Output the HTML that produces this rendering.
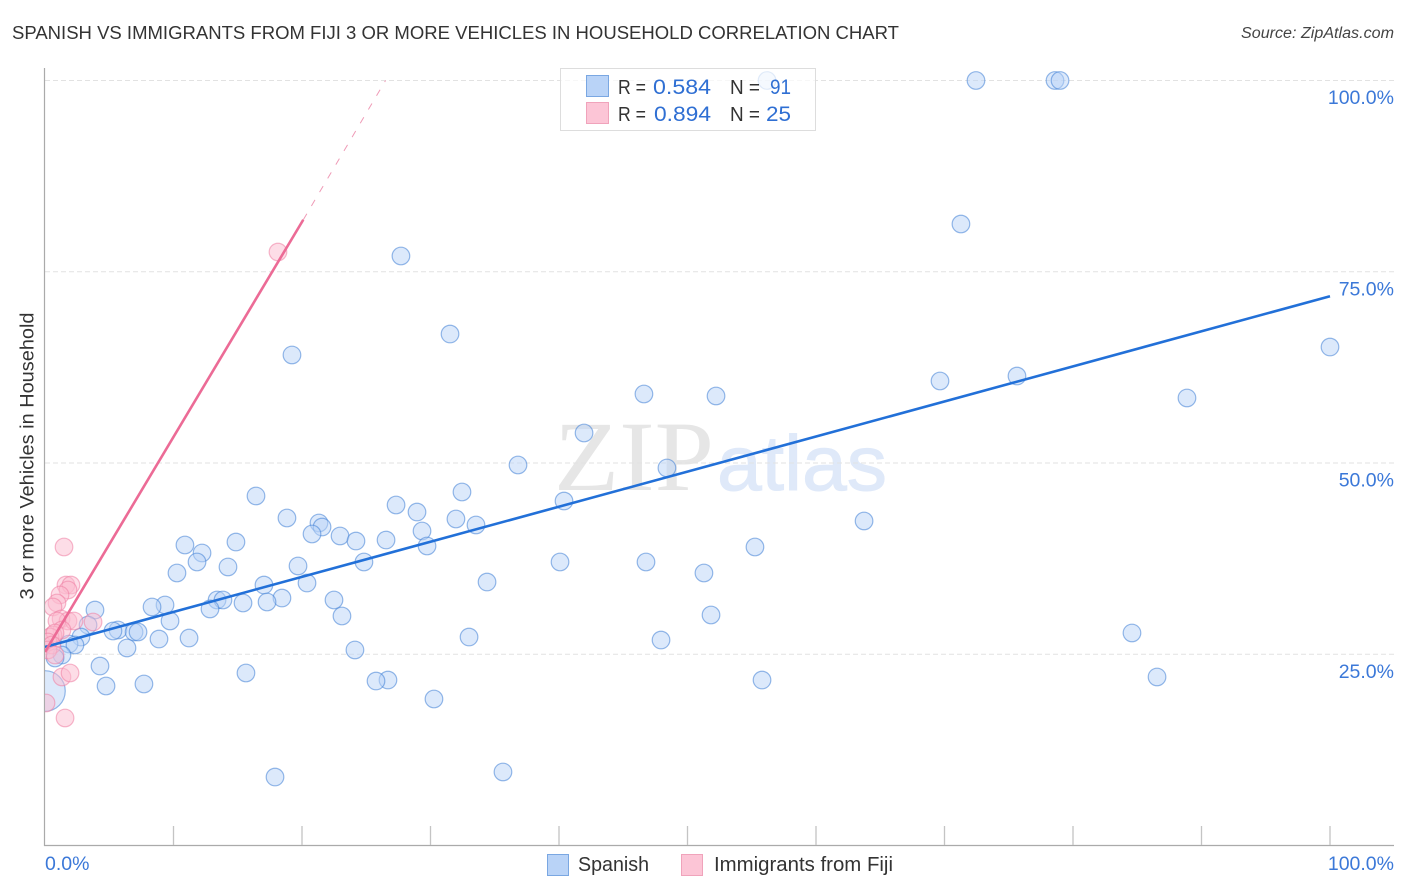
<!DOCTYPE html>
<html lang="en">
<head>
<meta charset="utf-8">
<title>Spanish vs Immigrants from Fiji 3 or More Vehicles in Household Correlation Chart</title>
<style>
html,body{margin:0;padding:0;background:#fff;}
body{width:1406px;height:892px;overflow:hidden;}
svg{display:block;font-family:"Liberation Sans",sans-serif;}
</style>
</head>
<body>
<svg id="chart" xmlns="http://www.w3.org/2000/svg" width="1406" height="892" viewBox="0 0 1406 892">
  <defs>
    <clipPath id="plot-clip"><rect x="45" y="60" width="1349" height="785"></rect></clipPath>
  </defs>
  <rect x="0" y="0" width="1406" height="892" fill="#fff"></rect>
  <text x="12" y="39" font-size="18.4" fill="#333" textLength="887" lengthAdjust="spacingAndGlyphs">SPANISH VS IMMIGRANTS FROM FIJI 3 OR MORE VEHICLES IN HOUSEHOLD CORRELATION CHART</text>
  <text x="1241" y="38" font-size="15.5" font-style="italic" fill="#444" textLength="153" lengthAdjust="spacingAndGlyphs">Source: ZipAtlas.com</text>

  <g>
    <text x="554" y="490" font-family="'Liberation Serif',serif" font-size="100" fill="#e6e6e6" textLength="160" lengthAdjust="spacingAndGlyphs">ZIP</text>
    <text x="717" y="490" font-family="'Liberation Sans',sans-serif" font-size="78" fill="#dfe9f9" stroke="#dfe9f9" stroke-width="1" textLength="170" lengthAdjust="spacingAndGlyphs">atlas</text>
  </g>

  <g id="grid"></g>
  <g id="axes"></g>
  <g id="marks" clip-path="url(#plot-clip)"></g>
  <g id="labels"></g>

  <text transform="translate(33.5,456) rotate(-90)" font-size="19" fill="#333" text-anchor="middle" textLength="287" lengthAdjust="spacingAndGlyphs">3 or more Vehicles in Household</text>

  <g>
    <rect x="560.5" y="68.5" width="255" height="62" fill="#fff" fill-opacity="0.72" stroke="#ddd"></rect>
    <rect x="586.5" y="75.5" width="22" height="21" fill="#b9d3f7" stroke="#7aa7e2"></rect>
    <rect x="586.5" y="102.5" width="22" height="21" fill="#fcc5d6" stroke="#f0a3bb"></rect>
    <text x="618" y="94" font-size="20" fill="#333" textLength="28" lengthAdjust="spacingAndGlyphs">R =</text>
    <text x="653" y="94" font-size="21" fill="#2f6fd3" textLength="58" lengthAdjust="spacingAndGlyphs">0.584</text>
    <text x="730" y="94" font-size="20" fill="#333" textLength="30" lengthAdjust="spacingAndGlyphs">N =</text>
    <text x="770" y="94" font-size="21" fill="#2f6fd3" textLength="21" lengthAdjust="spacingAndGlyphs">91</text>
    <text x="618" y="121" font-size="20" fill="#333" textLength="28" lengthAdjust="spacingAndGlyphs">R =</text>
    <text x="654" y="121" font-size="21" fill="#2f6fd3" textLength="57" lengthAdjust="spacingAndGlyphs">0.894</text>
    <text x="730" y="121" font-size="20" fill="#333" textLength="30" lengthAdjust="spacingAndGlyphs">N =</text>
    <text x="766" y="121" font-size="21" fill="#2f6fd3" textLength="25" lengthAdjust="spacingAndGlyphs">25</text>
  </g>

  <g>
    <rect x="547.5" y="854.5" width="21" height="21" fill="#b9d3f7" stroke="#7aa7e2"></rect>
    <text x="578" y="871" font-size="20" fill="#333" textLength="71" lengthAdjust="spacingAndGlyphs">Spanish</text>
    <rect x="681.5" y="854.5" width="21" height="21" fill="#fcc5d6" stroke="#f0a3bb"></rect>
    <text x="714" y="871" font-size="20" fill="#333" textLength="179" lengthAdjust="spacingAndGlyphs">Immigrants from Fiji</text>
  </g>
</svg>
<script>
const spanishX = [56.19,72.45,78.6,78.99,71.28,27.7,31.52,19.22,100,75.64,69.65,88.87,52.22,46.61,41.95,36.81,48.4,32.45,16.42,40.39,27.32,28.95,18.83,31.98,63.74,33.54,21.32,21.56,20.78,22.96,29.34,24.2,26.54,14.86,10.89,29.73,55.25,12.22,11.83,24.82,40.08,46.77,14.24,19.69,10.27,51.28,34.4,17.04,20.39,22.49,13.39,13.85,18.44,17.28,15.41,9.34,8.33,12.84,3.89,51.83,23.11,9.73,3.35,5.68,5.29,6.93,7.24,84.59,33.0,47.94,11.21,2.8,8.87,1.87,2.33,6.38,24.12,1.32,0.78,4.28,15.64,86.54,55.8,26.69,25.76,4.75,7.7,30.27,35.64,17.9];
const spanishY = [100,100,100,100,81.24,77.06,66.86,64.12,65.16,61.37,60.72,58.5,58.76,59.02,53.92,49.74,49.35,46.21,45.69,45.03,44.51,43.59,42.81,42.68,42.42,41.9,42.16,41.63,40.72,40.46,41.11,39.8,39.93,39.67,39.28,39.15,39.02,38.24,37.06,37.06,37.06,37.06,36.41,36.54,35.62,35.62,34.44,34.05,34.31,32.09,32.09,32.09,32.35,31.83,31.7,31.44,31.18,30.92,30.78,30.13,30.0,29.35,28.82,28.17,28.04,27.91,27.91,27.78,27.25,26.86,27.12,27.25,26.99,26.34,26.21,25.82,25.56,24.9,24.51,23.46,22.55,22.03,21.63,21.63,21.5,20.85,21.11,19.15,9.61,8.95];
const spanishLargeX = [0];
const spanishLargeY = [20.2];
const spanishLargeWeight = [5.3];
const fijiX = [18.13,1.48,1.63,2.02,1.79,1.17,0.93,0.62,1.25,1.79,2.26,0.93,3.74,1.32,0.62,0.39,0.78,0.23,0.54,0.23,0.78,1.32,1.95,0.08,1.56];
const fijiY = [77.58,39.02,34.05,34.05,33.4,32.75,31.7,31.18,29.61,29.35,29.35,29.35,29.22,28.17,27.52,27.25,27.78,26.6,26.21,25.56,24.9,22.03,22.55,18.63,16.67];
const spanishTrendX = [0,100];
const spanishTrendY = [25.95,71.8];
const fijiTrendX = [0,20.1];
const fijiTrendY = [25.3,81.8];
const fijiTrendDashedX = [20.1,26.5];
const fijiTrendDashedY = [81.8,100];
const yTickValues = [25,50,75,100];
const yTickLabels = ['25.0%','50.0%','75.0%','100.0%'];
const xTickValues = [10,20,30,40,50,60,70,80,90,100];
const xEdgeValues = [0,100];
const xEdgeLabels = ['0.0%','100.0%'];

const NS = 'http://www.w3.org/2000/svg';
const xScale = function (v) { return 45 + v * 12.85; };
const yScale = function (v) { return 845.5 - v * 7.65; };
const BASE_RADIUS = 8.8;

function make(parent, tag, attrs) {
  const el = document.createElementNS(NS, tag);
  Object.keys(attrs).forEach(function (k) { el.setAttribute(k, attrs[k]); });
  parent.appendChild(el);
  return el;
}

const grid = document.getElementById('grid');
const axes = document.getElementById('axes');
const marks = document.getElementById('marks');
const labels = document.getElementById('labels');

yTickValues.forEach(function (v) {
  const line = make(grid, 'line', {x1: 45, x2: 1394, y1: yScale(v), y2: yScale(v), stroke: '#e2e2e2', 'stroke-width': 1, 'stroke-dasharray': '5 3'});
  
  
});

const yAxisLine = make(axes, 'line', {x1: 44.5, x2: 44.5, y1: 68, y2: 846, stroke: '#aaa', 'stroke-width': 1.2});


const xAxisLine = make(axes, 'line', {x1: 44, x2: 1394, y1: 845.5, y2: 845.5, stroke: '#aaa', 'stroke-width': 1.2});


xTickValues.forEach(function (v) {
  const tick = make(axes, 'line', {x1: xScale(v), x2: xScale(v), y1: 826, y2: 845, stroke: '#c4c4c4', 'stroke-width': 1.3});
  
  
});

function drawPoint(x, y, r, fill, stroke, name) {
  const c = make(marks, 'circle', {cx: xScale(x), cy: yScale(y), r: r, fill: fill, 'fill-opacity': 0.5, stroke: stroke, 'stroke-opacity': 0.55, 'stroke-width': 1.2});
  
  
}

spanishX.forEach(function (x, i) {
  drawPoint(x, spanishY[i], BASE_RADIUS, '#b9d3f7', '#3f7fd6', 'spanish-point');
});
spanishLargeX.forEach(function (x, i) {
  drawPoint(x, spanishLargeY[i], BASE_RADIUS * Math.sqrt(spanishLargeWeight[i]), '#b9d3f7', '#3f7fd6', 'spanish-point-large');
});
fijiX.forEach(function (x, i) {
  drawPoint(x, fijiY[i], BASE_RADIUS, '#fbbccf', '#ee7ea2', 'fiji-point');
});

const spanishTrend = make(marks, 'line', {x1: xScale(spanishTrendX[0]), y1: yScale(spanishTrendY[0]), x2: xScale(spanishTrendX[1]), y2: yScale(spanishTrendY[1]), stroke: '#2270d8', 'stroke-width': 2.6});


const fijiTrend = make(marks, 'line', {x1: xScale(fijiTrendX[0]), y1: yScale(fijiTrendY[0]), x2: xScale(fijiTrendX[1]), y2: yScale(fijiTrendY[1]), stroke: '#ec6b96', 'stroke-width': 2.6});


const fijiDashed = make(marks, 'line', {x1: xScale(fijiTrendDashedX[0]), y1: yScale(fijiTrendDashedY[0]), x2: xScale(fijiTrendDashedX[1]), y2: yScale(fijiTrendDashedY[1]), stroke: '#ef9ab6', 'stroke-width': 1, 'stroke-dasharray': '7 9'});



yTickValues.forEach(function (v, i) {
  const t = make(labels, 'text', {x: 1394, y: yScale(v) + 23.5, 'font-size': 19.5, fill: '#3b78d8', 'text-anchor': 'end'});
  t.textContent = yTickLabels[i];
  
  
});
xEdgeValues.forEach(function (v, i) {
  const t = make(labels, 'text', {x: i === 0 ? xScale(v) : 1394, y: 870, 'font-size': 19.5, fill: '#3b78d8', 'text-anchor': i === 0 ? 'start' : 'end'});
  t.textContent = xEdgeLabels[i];
  
  
});
</script>
</body>
</html>
